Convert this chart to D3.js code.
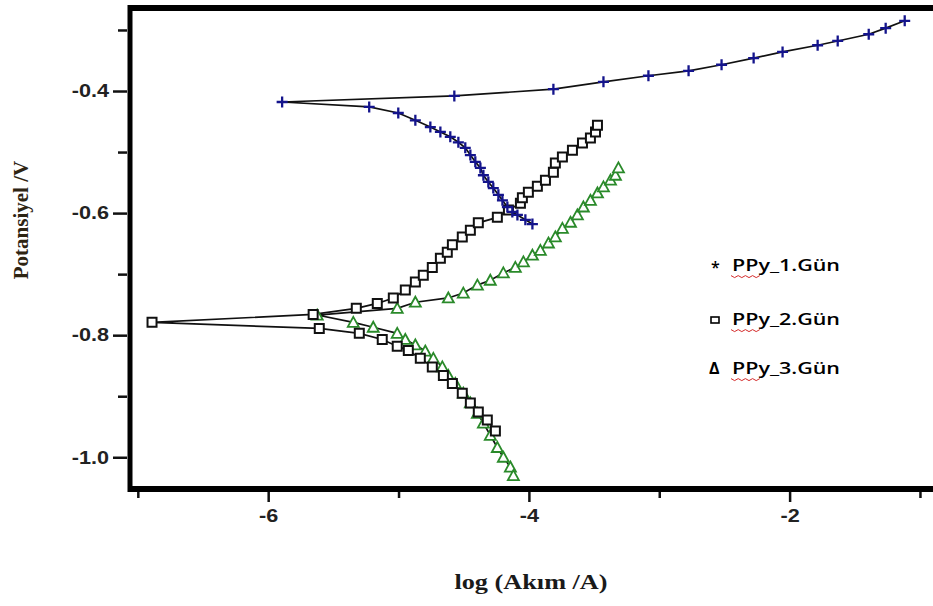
<!DOCTYPE html>
<html>
<head>
<meta charset="utf-8">
<script src="https://cdn.jsdelivr.net/npm/d3@7"></script>
<style>
  body { margin: 0; background: #fff; }
  svg { display: block; }
</style>
</head>
<body>
<svg id="chart" width="933" height="606"></svg>
<script>
// Tafel polarisation curves of PPy coatings (log current vs potential)
const xTicksMajor = [-6, -4, -2];
const xTicksMinor = [-7, -5, -3, -1];
const yTicksMajor = [-1.0, -0.8, -0.6, -0.4];
const yTicksMinor = [-0.9, -0.7, -0.5, -0.3];

const seriesNames = ["PPy_1.Gün", "PPy_2.Gün", "PPy_3.Gün"];

// Day 1: corrosion point, anodic branch, cathodic branch  [log(I/A), E/V]
const ppy1Start = [-5.893, -0.418];
const ppy1Anodic = [[-4.572,-0.408],[-3.812,-0.397],[-3.428,-0.385],[-3.083,-0.375],[-2.775,-0.367],[-2.522,-0.357],[-2.276,-0.346],[-2.054,-0.336],[-1.785,-0.325],[-1.631,-0.318],[-1.393,-0.307],[-1.263,-0.297],[-1.117,-0.285]];
const ppy1Cathodic = [[-5.225,-0.426],[-5.002,-0.436],[-4.871,-0.448],[-4.756,-0.459],[-4.679,-0.467],[-4.603,-0.475],[-4.541,-0.484],[-4.488,-0.493],[-4.449,-0.505],[-4.411,-0.516],[-4.372,-0.526],[-4.349,-0.538],[-4.311,-0.549],[-4.273,-0.559],[-4.234,-0.570],[-4.203,-0.579],[-4.165,-0.590],[-4.127,-0.598],[-4.088,-0.603],[-4.027,-0.611],[-3.973,-0.618]];

// Day 2
const ppy2Start = [-6.891, -0.779];
const ppy2Anodic = [[-5.655,-0.766],[-5.324,-0.756],[-5.163,-0.748],[-5.040,-0.739],[-4.948,-0.726],[-4.871,-0.713],[-4.810,-0.702],[-4.741,-0.689],[-4.679,-0.674],[-4.626,-0.664],[-4.587,-0.652],[-4.511,-0.639],[-4.449,-0.628],[-4.388,-0.616],[-4.242,-0.607],[-4.157,-0.595],[-4.065,-0.584],[-4.050,-0.575],[-4.004,-0.566],[-3.935,-0.556],[-3.873,-0.546],[-3.812,-0.533],[-3.797,-0.518],[-3.743,-0.508],[-3.666,-0.497],[-3.589,-0.485],[-3.528,-0.477],[-3.489,-0.467],[-3.474,-0.456]];
const ppy2Cathodic = [[-5.608,-0.789],[-5.301,-0.797],[-5.125,-0.807],[-5.010,-0.818],[-4.925,-0.825],[-4.833,-0.838],[-4.741,-0.852],[-4.656,-0.866],[-4.587,-0.879],[-4.511,-0.895],[-4.449,-0.911],[-4.388,-0.926],[-4.319,-0.939],[-4.257,-0.957]];

// Day 3
const ppy3Start = [-5.624, -0.767];
const ppy3Anodic = [[-5.010,-0.756],[-4.871,-0.746],[-4.618,-0.739],[-4.503,-0.731],[-4.395,-0.718],[-4.296,-0.710],[-4.196,-0.698],[-4.104,-0.689],[-4.042,-0.680],[-3.973,-0.669],[-3.912,-0.661],[-3.850,-0.649],[-3.797,-0.639],[-3.743,-0.625],[-3.681,-0.615],[-3.628,-0.603],[-3.582,-0.590],[-3.528,-0.579],[-3.474,-0.567],[-3.428,-0.557],[-3.374,-0.546],[-3.336,-0.538],[-3.313,-0.526]];
const ppy3Cathodic = [[-5.347,-0.779],[-5.194,-0.787],[-5.010,-0.797],[-4.948,-0.807],[-4.871,-0.816],[-4.795,-0.826],[-4.733,-0.838],[-4.664,-0.852],[-4.618,-0.866],[-4.564,-0.879],[-4.503,-0.895],[-4.449,-0.911],[-4.395,-0.928],[-4.349,-0.944],[-4.296,-0.964],[-4.242,-0.984],[-4.196,-1.000],[-4.142,-1.016],[-4.119,-1.030]];

const svg = d3.select("#chart");
const frame = { left: 130, top: 8, bottom: 489, right: 933 };

const x = d3.scaleLinear().domain([-7.06, -0.9]).range([frame.left, frame.right]);
const y = d3.scaleLinear().domain([-1.052, -0.264]).range([frame.bottom, frame.top]);

const tickFont = "'Liberation Sans', Arial, sans-serif";
const serifFont = "'Liberation Serif', 'Times New Roman', serif";
const stretch = 1.2;

// widen glyphs horizontally
function widen(sel, factor) {
  sel.each(function () {
    const w = this.getComputedTextLength();
    d3.select(this).attr("textLength", w * factor).attr("lengthAdjust", "spacingAndGlyphs");
  });
}

// ---- series ----
const series = [
  { start: ppy3Start, anodic: ppy3Anodic, cathodic: ppy3Cathodic, marker: "triangle" },
  { start: ppy2Start, anodic: ppy2Anodic, cathodic: ppy2Cathodic, marker: "square" },
  { start: ppy1Start, anodic: ppy1Anodic, cathodic: ppy1Cathodic, marker: "plus" }
];

const line = d3.line().x(d => x(d[0])).y(d => y(d[1]));
const plot = svg.append("g");

series.forEach(s => {
  const pts = s.cathodic.slice().reverse().concat([s.start], s.anodic);
  plot.append("path")
    .attr("d", line(pts))
    .attr("fill", "none")
    .attr("stroke", "#111")
    .attr("stroke-width", 1.7);
});

series.forEach(s => {
  const pts = [s.start].concat(s.anodic, s.cathodic);
  const g = plot.append("g");
  const m = g.selectAll("path").data(pts).join("path")
    .attr("transform", d => `translate(${x(d[0])},${y(d[1])})`);
  if (s.marker === "plus") {
    m.attr("d", "M-5.5,0H5.5M0,-5.5V5.5").attr("stroke", "#14148c").attr("stroke-width", 2.3).attr("fill", "none");
  } else if (s.marker === "square") {
    m.attr("d", "M-4.5,-4.5H4.5V4.5H-4.5Z").attr("stroke", "#111").attr("stroke-width", 2).attr("fill", "#fff");
  } else {
    m.attr("d", "M0,-5.5L5.5,4.5H-5.5Z").attr("stroke", "#2a8a2a").attr("stroke-width", 1.8).attr("fill", "#fff");
  }
});

// ---- frame ----
svg.append("line").attr("x1", frame.left).attr("x2", frame.left).attr("y1", frame.top - 3).attr("y2", frame.bottom + 3)
  .attr("stroke", "#000").attr("stroke-width", 5);
svg.append("line").attr("x1", frame.left - 2).attr("x2", 940).attr("y1", frame.top).attr("y2", frame.top)
  .attr("stroke", "#000").attr("stroke-width", 6);
svg.append("line").attr("x1", frame.left - 2).attr("x2", 940).attr("y1", frame.bottom).attr("y2", frame.bottom)
  .attr("stroke", "#000").attr("stroke-width", 6);

// ---- y axis ----
const yAxis = svg.append("g").attr("transform", `translate(${frame.left - 3},0)`)
  .call(d3.axisLeft(y).tickValues(yTicksMajor).tickSize(14).tickPadding(4).tickFormat(d => d.toFixed(1)));
const yMinor = svg.append("g").attr("transform", `translate(${frame.left - 3},0)`)
  .call(d3.axisLeft(y).tickValues(yTicksMinor).tickSize(9).tickFormat(""));
[yAxis, yMinor].forEach(a => {
  a.select(".domain").remove();
  a.selectAll(".tick line").attr("stroke", "#111").attr("stroke-width", 2.5);
});
yAxis.selectAll(".tick text")
  .attr("font-family", tickFont).attr("font-weight", "bold").attr("font-size", 18).attr("fill", "#222");
widen(yAxis.selectAll(".tick text"), stretch);

// ---- x axis ----
const xAxis = svg.append("g").attr("transform", `translate(0,${frame.bottom + 3})`)
  .call(d3.axisBottom(x).tickValues(xTicksMajor).tickSize(10).tickPadding(7).tickFormat(d => String(d)));
const xMinor = svg.append("g").attr("transform", `translate(0,${frame.bottom + 3})`)
  .call(d3.axisBottom(x).tickValues(xTicksMinor).tickSize(6).tickFormat(""));
[xAxis, xMinor].forEach(a => {
  a.select(".domain").remove();
  a.selectAll(".tick line").attr("stroke", "#111").attr("stroke-width", 2.5);
});
xAxis.selectAll(".tick text")
  .attr("font-family", tickFont).attr("font-weight", "bold").attr("font-size", 18).attr("fill", "#222");
widen(xAxis.selectAll(".tick text"), stretch);

// ---- axis titles ----
const xTitle = svg.append("text")
  .attr("x", 531).attr("y", 589).attr("text-anchor", "middle")
  .attr("font-family", serifFont).attr("font-weight", "bold").attr("font-size", 21).attr("fill", "#1a1a1a")
  .text("log (Akım /A)");
widen(xTitle, 1.25);

svg.append("text")
  .attr("transform", "translate(28,220) rotate(-90)").attr("text-anchor", "middle")
  .attr("font-family", serifFont).attr("font-weight", "bold").attr("font-size", 21).attr("fill", "#2e2413")
  .text("Potansiyel /V");

// ---- legend ----
const legendFont = "'Open Sans', 'Noto Sans', sans-serif";
const legendRows = [271, 325, 374];
const legend = svg.append("g");
legendRows.forEach((by, i) => {
  const t = legend.append("text")
    .attr("x", 732).attr("y", by)
    .attr("font-family", legendFont).attr("font-size", 16).attr("font-weight", 600).attr("fill", "#000")
    .text(seriesNames[i]);
  t.attr("textLength", 108).attr("lengthAdjust", "spacingAndGlyphs");
  // red wavy underline beneath "PPy"
  const wave = d3.range(0, 9).map(k => [731 + k * 3.6, by + 5 + (k % 2 ? 1.6 : -0.4)]);
  legend.append("path").attr("d", d3.line()(wave))
    .attr("fill", "none").attr("stroke", "#d42a2a").attr("stroke-width", 1);
});
legend.append("text").attr("x", 711).attr("y", legendRows[0] + 2)
  .attr("font-family", legendFont).attr("font-weight", 600).attr("font-size", 16).attr("fill", "#000").text("*");
legend.append("rect").attr("x", 711).attr("y", legendRows[1] - 8).attr("width", 8).attr("height", 6)
  .attr("fill", "#fff").attr("stroke", "#000").attr("stroke-width", 1.6);
legend.append("text").attr("x", 709).attr("y", legendRows[2])
  .attr("font-family", legendFont).attr("font-weight", "bold").attr("font-size", 16).attr("fill", "#000").text("Δ");
</script>
</body>
</html>
